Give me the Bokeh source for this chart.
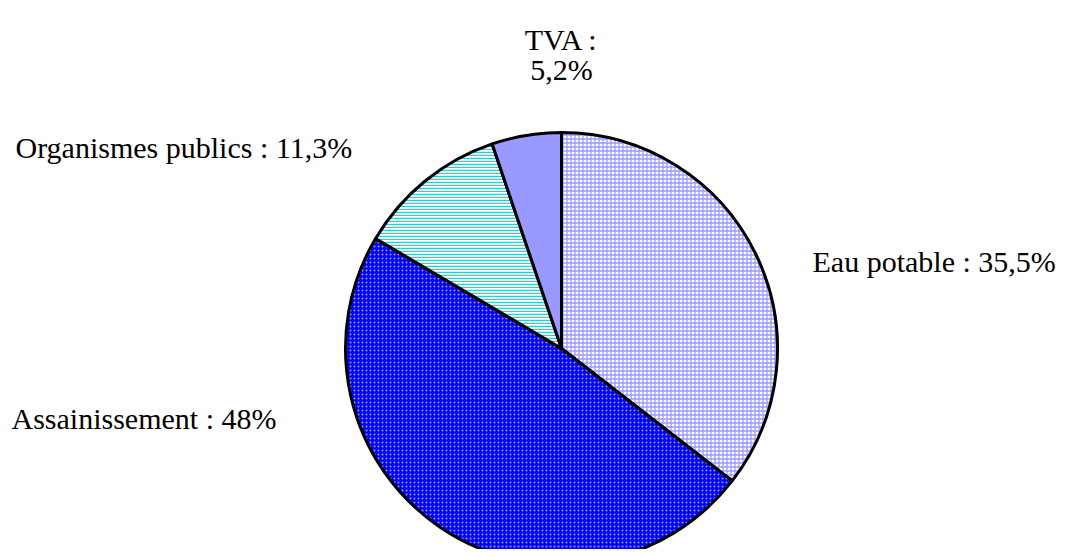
import math
from bokeh.plotting import figure
from bokeh.models import Range1d, ColumnDataSource
from bokeh.core.properties import value
from bokeh.embed import file_html
from bokeh.resources import INLINE

categories = ["Eau potable", "Assainissement", "Organismes publics", "TVA"]
shares = [35.5, 48.0, 11.3, 5.2]
label_texts = ["Eau potable : 35,5%", "Assainissement : 48%", "Organismes publics : 11,3%", "TVA :", "5,2%"]

fill_colors = ["#FFFFFF", "#0000FF", "#FFFFFF", "#9999FF"]
hatch_patterns = ["cross", "dot", "horizontal_line", " "]
hatch_colors = ["#9999FF", "#9A9AFF", "#33CCCC", "#9999FF"]
hatch_weights = [1.3, 1.0, 1.5, 1.0]
hatch_scales = [4.0, 4.0, 3.0, 4.0]

W, H = 1066, 549
cx, cy, r = 561, -348, 216

# angles clockwise from the top
starts, ends = [], []
acc = 0.0
for s in shares:
    a0 = math.pi / 2 - 2 * math.pi * acc / 100.0
    acc += s
    a1 = math.pi / 2 - 2 * math.pi * acc / 100.0
    starts.append(a0)
    ends.append(a1)

p = figure(width=W, height=H, output_backend="svg", toolbar_location=None,
           x_range=Range1d(0, W), y_range=Range1d(-H, 0),
           min_border=0)
p.axis.visible = False
p.grid.visible = False
p.outline_line_color = None
p.background_fill_color = "white"

for i in range(len(shares)):
    p.wedge(x=cx, y=cy, radius=r, start_angle=starts[i], end_angle=ends[i],
            direction="clock", fill_color=fill_colors[i],
            hatch_pattern=hatch_patterns[i], hatch_color=hatch_colors[i],
            hatch_weight=hatch_weights[i], hatch_scale=hatch_scales[i],
            line_color="black", line_width=3)

label_x = [812, 11, 15, 561, 561]
label_y = [-261, -418, -147, -39, -69]
label_align = ["left", "left", "left", "center", "center"]
src = ColumnDataSource(dict(x=label_x, y=label_y, t=label_texts, a=label_align))
p.text(x="x", y="y", text="t", text_align="a", text_baseline="middle",
       text_font=value("Liberation Serif"), text_font_size="30px",
       text_color="black", source=src)

open("out.html", "w").write(file_html(p, INLINE))
